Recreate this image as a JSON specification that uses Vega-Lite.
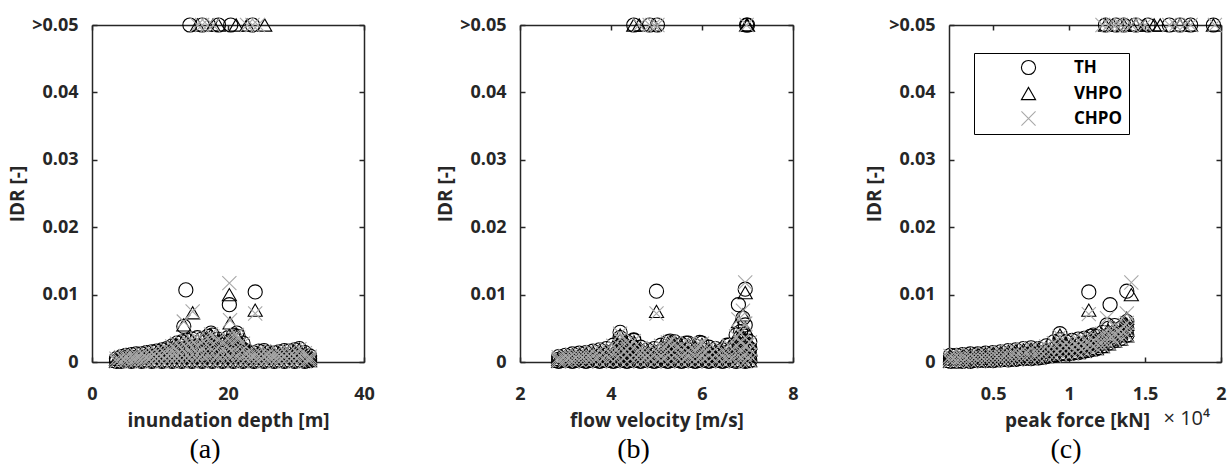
{
  "$schema": "https://vega.github.io/schema/vega-lite/v6.json",
  "padding": {"left": 8, "top": 15, "right": 0, "bottom": 0},
  "background": "white",
  "bounds": "flush",
  "spacing": 156,
  "config": {
    "view": {"stroke": null},
    "point": {"filled": false, "size": 200, "strokeWidth": 1.1, "opacity": 1},
    "axis": {"grid": false, "domainColor": "#262626", "domainWidth": 1.5, "tickColor": "#262626", "tickWidth": 1.5, "tickSize": -5, "labelFont": "Open Sans", "labelFontSize": 18, "labelFontWeight": "bold", "labelColor": "#262626", "labelFlush": false, "labelOverlap": false, "titleFont": "Open Sans", "titleFontSize": 19, "titleFontWeight": "bold", "titleColor": "#262626"},
    "axisX": {"labelPadding": 28, "titlePadding": 8},
    "axisY": {"labelPadding": 19, "titlePadding": 4},
    "legend": {"labelFont": "Open Sans", "labelFontSize": 17, "labelFontWeight": "bold", "labelColor": "black", "symbolSize": 200, "symbolStrokeWidth": 1.1, "strokeColor": "black", "fillColor": "white", "padding": 6, "rowPadding": 7, "symbolOffset": 40, "labelOffset": 37},
    "title": {"orient": "bottom", "font": "Liberation Serif", "fontSize": 28, "fontWeight": "normal", "color": "black", "anchor": "middle", "frame": "group", "offset": 6}
  },
  "resolve": {"scale": {"shape": "independent", "stroke": "independent", "strokeWidth": "independent"}, "legend": {"shape": "independent", "stroke": "independent"}},
  "datasets": {
    "a": [
      {"x":3.6,"TH":0.0001,"VHPO":0.0001,"CHPO":0.0001},{"x":3.6,"TH":0.0005,"VHPO":0.0004,"CHPO":0.0005},
      {"x":4.3,"TH":0.0001,"VHPO":0.0001,"CHPO":0.0001},{"x":4.3,"TH":0.0008,"VHPO":0.0007,"CHPO":0.0007},
      {"x":5.0,"TH":0.0002,"VHPO":0.0001,"CHPO":0.0002},{"x":5.0,"TH":0.0006,"VHPO":0.0005,"CHPO":0.0006},{"x":5.0,"TH":0.0010,"VHPO":0.0009,"CHPO":0.0009},
      {"x":5.8,"TH":0.0001,"VHPO":0.0001,"CHPO":0.0001},{"x":5.8,"TH":0.0006,"VHPO":0.0005,"CHPO":0.0006},{"x":5.8,"TH":0.0011,"VHPO":0.0010,"CHPO":0.0010},
      {"x":6.5,"TH":0.0002,"VHPO":0.0002,"CHPO":0.0002},{"x":6.5,"TH":0.0007,"VHPO":0.0006,"CHPO":0.0006},{"x":6.5,"TH":0.0012,"VHPO":0.0011,"CHPO":0.0011},
      {"x":7.3,"TH":0.0001,"VHPO":0.0001,"CHPO":0.0001},{"x":7.3,"TH":0.0006,"VHPO":0.0006,"CHPO":0.0006},{"x":7.3,"TH":0.0012,"VHPO":0.0011,"CHPO":0.0012},
      {"x":8.0,"TH":0.0002,"VHPO":0.0002,"CHPO":0.0002},{"x":8.0,"TH":0.0008,"VHPO":0.0007,"CHPO":0.0007},{"x":8.0,"TH":0.0014,"VHPO":0.0013,"CHPO":0.0013},
      {"x":8.8,"TH":0.0001,"VHPO":0.0001,"CHPO":0.0001},{"x":8.8,"TH":0.0008,"VHPO":0.0007,"CHPO":0.0008},{"x":8.8,"TH":0.0015,"VHPO":0.0014,"CHPO":0.0014},
      {"x":9.5,"TH":0.0002,"VHPO":0.0002,"CHPO":0.0002},{"x":9.5,"TH":0.0009,"VHPO":0.0008,"CHPO":0.0008},{"x":9.5,"TH":0.0016,"VHPO":0.0015,"CHPO":0.0015},
      {"x":10.3,"TH":0.0001,"VHPO":0.0001,"CHPO":0.0001},{"x":10.3,"TH":0.0009,"VHPO":0.0008,"CHPO":0.0009},{"x":10.3,"TH":0.0018,"VHPO":0.0017,"CHPO":0.0017},
      {"x":11.0,"TH":0.0002,"VHPO":0.0002,"CHPO":0.0002},{"x":11.0,"TH":0.0010,"VHPO":0.0009,"CHPO":0.0010},{"x":11.0,"TH":0.0020,"VHPO":0.0018,"CHPO":0.0019},
      {"x":11.8,"TH":0.0001,"VHPO":0.0001,"CHPO":0.0001},{"x":11.8,"TH":0.0008,"VHPO":0.0007,"CHPO":0.0008},{"x":11.8,"TH":0.0016,"VHPO":0.0015,"CHPO":0.0015},{"x":11.8,"TH":0.0024,"VHPO":0.0022,"CHPO":0.0023},
      {"x":12.5,"TH":0.0002,"VHPO":0.0002,"CHPO":0.0002},{"x":12.5,"TH":0.0010,"VHPO":0.0009,"CHPO":0.0010},{"x":12.5,"TH":0.0019,"VHPO":0.0017,"CHPO":0.0018},{"x":12.5,"TH":0.0028,"VHPO":0.0026,"CHPO":0.0027},
      {"x":13.2,"TH":0.0001,"VHPO":0.0001,"CHPO":0.0001},{"x":13.2,"TH":0.0010,"VHPO":0.0009,"CHPO":0.0010},{"x":13.2,"TH":0.0020,"VHPO":0.0018,"CHPO":0.0019},{"x":13.2,"TH":0.0030,"VHPO":0.0028,"CHPO":0.0029},
      {"x":14.0,"TH":0.0002,"VHPO":0.0002,"CHPO":0.0002},{"x":14.0,"TH":0.0011,"VHPO":0.0010,"CHPO":0.0011},{"x":14.0,"TH":0.0022,"VHPO":0.0020,"CHPO":0.0021},{"x":14.0,"TH":0.0032,"VHPO":0.0030,"CHPO":0.0031},
      {"x":14.7,"TH":0.0001,"VHPO":0.0001,"CHPO":0.0001},{"x":14.7,"TH":0.0012,"VHPO":0.0011,"CHPO":0.0011},{"x":14.7,"TH":0.0023,"VHPO":0.0021,"CHPO":0.0022},{"x":14.7,"TH":0.0034,"VHPO":0.0031,"CHPO":0.0032},
      {"x":15.5,"TH":0.0002,"VHPO":0.0002,"CHPO":0.0002},{"x":15.5,"TH":0.0012,"VHPO":0.0011,"CHPO":0.0012},{"x":15.5,"TH":0.0024,"VHPO":0.0022,"CHPO":0.0023},{"x":15.5,"TH":0.0036,"VHPO":0.0033,"CHPO":0.0034},
      {"x":16.2,"TH":0.0001,"VHPO":0.0001,"CHPO":0.0001},{"x":16.2,"TH":0.0011,"VHPO":0.0010,"CHPO":0.0011},{"x":16.2,"TH":0.0022,"VHPO":0.0020,"CHPO":0.0021},{"x":16.2,"TH":0.0034,"VHPO":0.0032,"CHPO":0.0033},
      {"x":17.0,"TH":0.0002,"VHPO":0.0002,"CHPO":0.0002},{"x":17.0,"TH":0.0013,"VHPO":0.0012,"CHPO":0.0012},{"x":17.0,"TH":0.0026,"VHPO":0.0024,"CHPO":0.0025},{"x":17.0,"TH":0.0038,"VHPO":0.0035,"CHPO":0.0036},
      {"x":17.7,"TH":0.0001,"VHPO":0.0001,"CHPO":0.0001},{"x":17.7,"TH":0.0013,"VHPO":0.0012,"CHPO":0.0013},{"x":17.7,"TH":0.0027,"VHPO":0.0025,"CHPO":0.0026},{"x":17.7,"TH":0.0040,"VHPO":0.0037,"CHPO":0.0038},
      {"x":18.5,"TH":0.0002,"VHPO":0.0002,"CHPO":0.0002},{"x":18.5,"TH":0.0011,"VHPO":0.0010,"CHPO":0.0011},{"x":18.5,"TH":0.0023,"VHPO":0.0021,"CHPO":0.0022},{"x":18.5,"TH":0.0034,"VHPO":0.0032,"CHPO":0.0033},
      {"x":19.2,"TH":0.0001,"VHPO":0.0001,"CHPO":0.0001},{"x":19.2,"TH":0.0010,"VHPO":0.0009,"CHPO":0.0010},{"x":19.2,"TH":0.0020,"VHPO":0.0018,"CHPO":0.0019},{"x":19.2,"TH":0.0030,"VHPO":0.0028,"CHPO":0.0029},
      {"x":20.0,"TH":0.0002,"VHPO":0.0002,"CHPO":0.0002},{"x":20.0,"TH":0.0012,"VHPO":0.0011,"CHPO":0.0012},{"x":20.0,"TH":0.0024,"VHPO":0.0022,"CHPO":0.0023},{"x":20.0,"TH":0.0036,"VHPO":0.0033,"CHPO":0.0034},
      {"x":20.8,"TH":0.0001,"VHPO":0.0001,"CHPO":0.0001},{"x":20.8,"TH":0.0013,"VHPO":0.0012,"CHPO":0.0013},{"x":20.8,"TH":0.0027,"VHPO":0.0025,"CHPO":0.0026},{"x":20.8,"TH":0.0040,"VHPO":0.0037,"CHPO":0.0038},
      {"x":21.5,"TH":0.0002,"VHPO":0.0002,"CHPO":0.0002},{"x":21.5,"TH":0.0013,"VHPO":0.0012,"CHPO":0.0012},{"x":21.5,"TH":0.0026,"VHPO":0.0024,"CHPO":0.0025},{"x":21.5,"TH":0.0038,"VHPO":0.0035,"CHPO":0.0036},
      {"x":22.2,"TH":0.0001,"VHPO":0.0001,"CHPO":0.0001},{"x":22.2,"TH":0.0010,"VHPO":0.0009,"CHPO":0.0009},{"x":22.2,"TH":0.0019,"VHPO":0.0017,"CHPO":0.0018},{"x":22.2,"TH":0.0028,"VHPO":0.0026,"CHPO":0.0027},
      {"x":23.0,"TH":0.0002,"VHPO":0.0002,"CHPO":0.0002},{"x":23.0,"TH":0.0008,"VHPO":0.0007,"CHPO":0.0008},{"x":23.0,"TH":0.0015,"VHPO":0.0014,"CHPO":0.0014},
      {"x":23.8,"TH":0.0001,"VHPO":0.0001,"CHPO":0.0001},{"x":23.8,"TH":0.0007,"VHPO":0.0006,"CHPO":0.0007},{"x":23.8,"TH":0.0013,"VHPO":0.0012,"CHPO":0.0012},
      {"x":24.5,"TH":0.0002,"VHPO":0.0002,"CHPO":0.0002},{"x":24.5,"TH":0.0008,"VHPO":0.0007,"CHPO":0.0008},{"x":24.5,"TH":0.0016,"VHPO":0.0015,"CHPO":0.0015},
      {"x":25.3,"TH":0.0001,"VHPO":0.0001,"CHPO":0.0001},{"x":25.3,"TH":0.0009,"VHPO":0.0008,"CHPO":0.0008},{"x":25.3,"TH":0.0017,"VHPO":0.0016,"CHPO":0.0016},
      {"x":26.0,"TH":0.0002,"VHPO":0.0002,"CHPO":0.0002},{"x":26.0,"TH":0.0008,"VHPO":0.0007,"CHPO":0.0007},{"x":26.0,"TH":0.0014,"VHPO":0.0013,"CHPO":0.0013},
      {"x":26.8,"TH":0.0001,"VHPO":0.0001,"CHPO":0.0001},{"x":26.8,"TH":0.0007,"VHPO":0.0006,"CHPO":0.0007},{"x":26.8,"TH":0.0013,"VHPO":0.0012,"CHPO":0.0012},
      {"x":27.5,"TH":0.0002,"VHPO":0.0002,"CHPO":0.0002},{"x":27.5,"TH":0.0008,"VHPO":0.0007,"CHPO":0.0008},{"x":27.5,"TH":0.0015,"VHPO":0.0014,"CHPO":0.0014},
      {"x":28.3,"TH":0.0001,"VHPO":0.0001,"CHPO":0.0001},{"x":28.3,"TH":0.0009,"VHPO":0.0008,"CHPO":0.0008},{"x":28.3,"TH":0.0017,"VHPO":0.0016,"CHPO":0.0016},
      {"x":29.0,"TH":0.0002,"VHPO":0.0002,"CHPO":0.0002},{"x":29.0,"TH":0.0008,"VHPO":0.0007,"CHPO":0.0008},{"x":29.0,"TH":0.0016,"VHPO":0.0015,"CHPO":0.0015},
      {"x":29.8,"TH":0.0001,"VHPO":0.0001,"CHPO":0.0001},{"x":29.8,"TH":0.0009,"VHPO":0.0008,"CHPO":0.0009},{"x":29.8,"TH":0.0018,"VHPO":0.0017,"CHPO":0.0017},
      {"x":30.5,"TH":0.0002,"VHPO":0.0002,"CHPO":0.0002},{"x":30.5,"TH":0.0010,"VHPO":0.0009,"CHPO":0.0010},{"x":30.5,"TH":0.0020,"VHPO":0.0019,"CHPO":0.0019},
      {"x":31.3,"TH":0.0001,"VHPO":0.0001,"CHPO":0.0001},{"x":31.3,"TH":0.0007,"VHPO":0.0006,"CHPO":0.0007},{"x":31.3,"TH":0.0014,"VHPO":0.0013,"CHPO":0.0013},
      {"x":32.0,"TH":0.0002,"VHPO":0.0002,"CHPO":0.0002},{"x":32.0,"TH":0.0005,"VHPO":0.0005,"CHPO":0.0005},{"x":32.0,"TH":0.0009,"VHPO":0.0008,"CHPO":0.0008},
      {"x":13.8,"TH":0.0107},
      {"x":13.5,"TH":0.0053,"VHPO":0.0055,"CHPO":0.0060},
      {"x":14.8,"VHPO":0.0073,"CHPO":0.0075},
      {"x":17.5,"TH":0.0043,"VHPO":0.0040,"CHPO":0.0041},
      {"x":20.2,"TH":0.0085,"VHPO":0.0100,"CHPO":0.0117},
      {"x":20.3,"VHPO":0.0058,"CHPO":0.0062},
      {"x":21.3,"TH":0.0043,"VHPO":0.0038,"CHPO":0.0040},
      {"x":24.0,"TH":0.0104,"VHPO":0.0077,"CHPO":0.0072},
      {"x":14.4,"TH":0.05},
      {"x":15.5,"VHPO":0.05,"CHPO":0.05},
      {"x":16.2,"TH":0.05,"CHPO":0.05},
      {"x":17.0,"CHPO":0.05},
      {"x":17.8,"VHPO":0.05,"CHPO":0.05},
      {"x":18.6,"TH":0.05,"VHPO":0.05},
      {"x":20.4,"TH":0.05},
      {"x":21.2,"VHPO":0.05},
      {"x":22.8,"VHPO":0.05,"CHPO":0.05},
      {"x":23.6,"TH":0.05,"CHPO":0.05},
      {"x":24.4,"CHPO":0.05},
      {"x":25.4,"VHPO":0.05}
    ],
    "b": [
      {"x":2.85,"TH":0.0001,"VHPO":0.0001,"CHPO":0.0001},{"x":2.85,"TH":0.0004,"VHPO":0.0004,"CHPO":0.0004},{"x":2.85,"TH":0.0008,"VHPO":0.0007,"CHPO":0.0007},
      {"x":3.0,"TH":0.0002,"VHPO":0.0002,"CHPO":0.0002},{"x":3.0,"TH":0.0005,"VHPO":0.0005,"CHPO":0.0005},{"x":3.0,"TH":0.0010,"VHPO":0.0009,"CHPO":0.0009},
      {"x":3.15,"TH":0.0001,"VHPO":0.0001,"CHPO":0.0001},{"x":3.15,"TH":0.0006,"VHPO":0.0005,"CHPO":0.0006},{"x":3.15,"TH":0.0012,"VHPO":0.0011,"CHPO":0.0011},
      {"x":3.3,"TH":0.0002,"VHPO":0.0002,"CHPO":0.0002},{"x":3.3,"TH":0.0007,"VHPO":0.0006,"CHPO":0.0007},{"x":3.3,"TH":0.0013,"VHPO":0.0012,"CHPO":0.0012},
      {"x":3.45,"TH":0.0001,"VHPO":0.0001,"CHPO":0.0001},{"x":3.45,"TH":0.0007,"VHPO":0.0006,"CHPO":0.0007},{"x":3.45,"TH":0.0014,"VHPO":0.0013,"CHPO":0.0013},
      {"x":3.6,"TH":0.0002,"VHPO":0.0002,"CHPO":0.0002},{"x":3.6,"TH":0.0008,"VHPO":0.0007,"CHPO":0.0008},{"x":3.6,"TH":0.0016,"VHPO":0.0015,"CHPO":0.0015},
      {"x":3.75,"TH":0.0001,"VHPO":0.0001,"CHPO":0.0001},{"x":3.75,"TH":0.0009,"VHPO":0.0008,"CHPO":0.0009},{"x":3.75,"TH":0.0018,"VHPO":0.0017,"CHPO":0.0017},
      {"x":3.9,"TH":0.0002,"VHPO":0.0002,"CHPO":0.0002},{"x":3.9,"TH":0.0010,"VHPO":0.0009,"CHPO":0.0010},{"x":3.9,"TH":0.0020,"VHPO":0.0018,"CHPO":0.0019},
      {"x":4.05,"TH":0.0001,"VHPO":0.0001,"CHPO":0.0001},{"x":4.05,"TH":0.0008,"VHPO":0.0007,"CHPO":0.0008},{"x":4.05,"TH":0.0016,"VHPO":0.0015,"CHPO":0.0015},{"x":4.05,"TH":0.0025,"VHPO":0.0023,"CHPO":0.0024},
      {"x":4.2,"TH":0.0002,"VHPO":0.0002,"CHPO":0.0002},{"x":4.2,"TH":0.0012,"VHPO":0.0011,"CHPO":0.0011},{"x":4.2,"TH":0.0024,"VHPO":0.0022,"CHPO":0.0023},{"x":4.2,"TH":0.0036,"VHPO":0.0033,"CHPO":0.0034},
      {"x":4.35,"TH":0.0001,"VHPO":0.0001,"CHPO":0.0001},{"x":4.35,"TH":0.0010,"VHPO":0.0009,"CHPO":0.0010},{"x":4.35,"TH":0.0020,"VHPO":0.0018,"CHPO":0.0019},{"x":4.35,"TH":0.0030,"VHPO":0.0028,"CHPO":0.0029},
      {"x":4.5,"TH":0.0002,"VHPO":0.0002,"CHPO":0.0002},{"x":4.5,"TH":0.0011,"VHPO":0.0010,"CHPO":0.0010},{"x":4.5,"TH":0.0022,"VHPO":0.0020,"CHPO":0.0021},{"x":4.5,"TH":0.0032,"VHPO":0.0030,"CHPO":0.0031},
      {"x":4.65,"TH":0.0001,"VHPO":0.0001,"CHPO":0.0001},{"x":4.65,"TH":0.0008,"VHPO":0.0007,"CHPO":0.0007},{"x":4.65,"TH":0.0015,"VHPO":0.0014,"CHPO":0.0014},{"x":4.65,"TH":0.0022,"VHPO":0.0020,"CHPO":0.0021},
      {"x":4.8,"TH":0.0002,"VHPO":0.0002,"CHPO":0.0002},{"x":4.8,"TH":0.0009,"VHPO":0.0008,"CHPO":0.0009},{"x":4.8,"TH":0.0018,"VHPO":0.0017,"CHPO":0.0017},
      {"x":4.95,"TH":0.0001,"VHPO":0.0001,"CHPO":0.0001},{"x":4.95,"TH":0.0010,"VHPO":0.0009,"CHPO":0.0010},{"x":4.95,"TH":0.0020,"VHPO":0.0018,"CHPO":0.0019},
      {"x":5.1,"TH":0.0002,"VHPO":0.0002,"CHPO":0.0002},{"x":5.1,"TH":0.0008,"VHPO":0.0007,"CHPO":0.0008},{"x":5.1,"TH":0.0016,"VHPO":0.0015,"CHPO":0.0015},{"x":5.1,"TH":0.0025,"VHPO":0.0023,"CHPO":0.0024},
      {"x":5.25,"TH":0.0001,"VHPO":0.0001,"CHPO":0.0001},{"x":5.25,"TH":0.0010,"VHPO":0.0009,"CHPO":0.0010},{"x":5.25,"TH":0.0020,"VHPO":0.0018,"CHPO":0.0019},{"x":5.25,"TH":0.0030,"VHPO":0.0028,"CHPO":0.0029},
      {"x":5.4,"TH":0.0002,"VHPO":0.0002,"CHPO":0.0002},{"x":5.4,"TH":0.0010,"VHPO":0.0009,"CHPO":0.0010},{"x":5.4,"TH":0.0020,"VHPO":0.0019,"CHPO":0.0019},{"x":5.4,"TH":0.0030,"VHPO":0.0027,"CHPO":0.0028},
      {"x":5.55,"TH":0.0001,"VHPO":0.0001,"CHPO":0.0001},{"x":5.55,"TH":0.0009,"VHPO":0.0008,"CHPO":0.0008},{"x":5.55,"TH":0.0017,"VHPO":0.0016,"CHPO":0.0016},{"x":5.55,"TH":0.0026,"VHPO":0.0024,"CHPO":0.0025},
      {"x":5.7,"TH":0.0002,"VHPO":0.0002,"CHPO":0.0002},{"x":5.7,"TH":0.0009,"VHPO":0.0008,"CHPO":0.0009},{"x":5.7,"TH":0.0018,"VHPO":0.0017,"CHPO":0.0017},{"x":5.7,"TH":0.0028,"VHPO":0.0026,"CHPO":0.0027},
      {"x":5.85,"TH":0.0001,"VHPO":0.0001,"CHPO":0.0001},{"x":5.85,"TH":0.0008,"VHPO":0.0007,"CHPO":0.0008},{"x":5.85,"TH":0.0016,"VHPO":0.0015,"CHPO":0.0015},{"x":5.85,"TH":0.0024,"VHPO":0.0022,"CHPO":0.0023},
      {"x":6.0,"TH":0.0002,"VHPO":0.0002,"CHPO":0.0002},{"x":6.0,"TH":0.0009,"VHPO":0.0008,"CHPO":0.0009},{"x":6.0,"TH":0.0018,"VHPO":0.0017,"CHPO":0.0017},{"x":6.0,"TH":0.0028,"VHPO":0.0026,"CHPO":0.0027},
      {"x":6.15,"TH":0.0001,"VHPO":0.0001,"CHPO":0.0001},{"x":6.15,"TH":0.0011,"VHPO":0.0010,"CHPO":0.0010},{"x":6.15,"TH":0.0022,"VHPO":0.0020,"CHPO":0.0021},
      {"x":6.3,"TH":0.0002,"VHPO":0.0002,"CHPO":0.0002},{"x":6.3,"TH":0.0010,"VHPO":0.0009,"CHPO":0.0010},{"x":6.3,"TH":0.0020,"VHPO":0.0018,"CHPO":0.0019},
      {"x":6.45,"TH":0.0001,"VHPO":0.0001,"CHPO":0.0001},{"x":6.45,"TH":0.0009,"VHPO":0.0008,"CHPO":0.0009},{"x":6.45,"TH":0.0018,"VHPO":0.0017,"CHPO":0.0017},
      {"x":6.6,"TH":0.0002,"VHPO":0.0002,"CHPO":0.0002},{"x":6.6,"TH":0.0008,"VHPO":0.0007,"CHPO":0.0008},{"x":6.6,"TH":0.0016,"VHPO":0.0015,"CHPO":0.0015},{"x":6.6,"TH":0.0025,"VHPO":0.0023,"CHPO":0.0024},
      {"x":6.75,"TH":0.0001,"VHPO":0.0001,"CHPO":0.0001},{"x":6.75,"TH":0.0013,"VHPO":0.0012,"CHPO":0.0013},{"x":6.75,"TH":0.0026,"VHPO":0.0024,"CHPO":0.0025},{"x":6.75,"TH":0.0040,"VHPO":0.0037,"CHPO":0.0038},
      {"x":6.85,"TH":0.0002,"VHPO":0.0002,"CHPO":0.0002},{"x":6.85,"TH":0.0015,"VHPO":0.0014,"CHPO":0.0014},{"x":6.85,"TH":0.0030,"VHPO":0.0028,"CHPO":0.0029},{"x":6.85,"TH":0.0045,"VHPO":0.0042,"CHPO":0.0043},
      {"x":6.95,"TH":0.0001,"VHPO":0.0001,"CHPO":0.0001},{"x":6.95,"TH":0.0012,"VHPO":0.0011,"CHPO":0.0012},{"x":6.95,"TH":0.0025,"VHPO":0.0023,"CHPO":0.0024},{"x":6.95,"TH":0.0038,"VHPO":0.0035,"CHPO":0.0036},
      {"x":7.05,"TH":0.0002,"VHPO":0.0002,"CHPO":0.0002},{"x":7.05,"TH":0.0010,"VHPO":0.0009,"CHPO":0.0010},{"x":7.05,"TH":0.0020,"VHPO":0.0018,"CHPO":0.0019},{"x":7.05,"TH":0.0030,"VHPO":0.0028,"CHPO":0.0029},
      {"x":4.2,"TH":0.0044,"VHPO":0.0040,"CHPO":0.0042},
      {"x":4.5,"TH":0.0033,"VHPO":0.0030,"CHPO":0.0031},
      {"x":5.3,"TH":0.0031,"VHPO":0.0029,"CHPO":0.0030},
      {"x":5.65,"TH":0.0028},
      {"x":5.95,"TH":0.0029,"CHPO":0.0026},
      {"x":6.55,"TH":0.0025},
      {"x":5.0,"TH":0.0105,"VHPO":0.0075,"CHPO":0.0072},
      {"x":6.8,"TH":0.0085,"VHPO":0.0060,"CHPO":0.0063},
      {"x":6.95,"TH":0.0108,"VHPO":0.0103,"CHPO":0.0118},
      {"x":6.9,"TH":0.0065,"VHPO":0.0070,"CHPO":0.0076},
      {"x":6.95,"TH":0.0055,"VHPO":0.0050,"CHPO":0.0057},
      {"x":4.5,"TH":0.05,"VHPO":0.05},
      {"x":4.62,"VHPO":0.05,"CHPO":0.05},
      {"x":4.85,"TH":0.05,"CHPO":0.05},
      {"x":4.95,"VHPO":0.05,"CHPO":0.05},
      {"x":5.02,"TH":0.05,"CHPO":0.05},
      {"x":6.98,"TH":0.05,"VHPO":0.05,"CHPO":0.05},
      {"x":7.0,"TH":0.05,"VHPO":0.05}
    ],
    "c": [
      {"x":2200,"TH":0.0001,"VHPO":0.0001,"CHPO":0.0001},{"x":2200,"TH":0.0005,"VHPO":0.0005,"CHPO":0.0005},{"x":2200,"TH":0.0010,"VHPO":0.0009,"CHPO":0.0009},
      {"x":2600,"TH":0.0001,"VHPO":0.0001,"CHPO":0.0001},{"x":2600,"TH":0.0005,"VHPO":0.0005,"CHPO":0.0005},{"x":2600,"TH":0.0010,"VHPO":0.0009,"CHPO":0.0010},
      {"x":3000,"TH":0.0001,"VHPO":0.0001,"CHPO":0.0001},{"x":3000,"TH":0.0006,"VHPO":0.0005,"CHPO":0.0006},{"x":3000,"TH":0.0011,"VHPO":0.0010,"CHPO":0.0010},
      {"x":3500,"TH":0.0001,"VHPO":0.0001,"CHPO":0.0001},{"x":3500,"TH":0.0006,"VHPO":0.0006,"CHPO":0.0006},{"x":3500,"TH":0.0012,"VHPO":0.0011,"CHPO":0.0011},
      {"x":4000,"TH":0.0002,"VHPO":0.0002,"CHPO":0.0002},{"x":4000,"TH":0.0007,"VHPO":0.0006,"CHPO":0.0007},{"x":4000,"TH":0.0012,"VHPO":0.0011,"CHPO":0.0012},
      {"x":4500,"TH":0.0002,"VHPO":0.0002,"CHPO":0.0002},{"x":4500,"TH":0.0007,"VHPO":0.0007,"CHPO":0.0007},{"x":4500,"TH":0.0013,"VHPO":0.0012,"CHPO":0.0012},
      {"x":5000,"TH":0.0002,"VHPO":0.0002,"CHPO":0.0002},{"x":5000,"TH":0.0008,"VHPO":0.0007,"CHPO":0.0008},{"x":5000,"TH":0.0014,"VHPO":0.0013,"CHPO":0.0013},
      {"x":5500,"TH":0.0003,"VHPO":0.0003,"CHPO":0.0003},{"x":5500,"TH":0.0009,"VHPO":0.0008,"CHPO":0.0008},{"x":5500,"TH":0.0015,"VHPO":0.0014,"CHPO":0.0014},
      {"x":6000,"TH":0.0003,"VHPO":0.0003,"CHPO":0.0003},{"x":6000,"TH":0.0010,"VHPO":0.0009,"CHPO":0.0009},{"x":6000,"TH":0.0017,"VHPO":0.0016,"CHPO":0.0016},
      {"x":6500,"TH":0.0004,"VHPO":0.0004,"CHPO":0.0004},{"x":6500,"TH":0.0011,"VHPO":0.0010,"CHPO":0.0010},{"x":6500,"TH":0.0018,"VHPO":0.0017,"CHPO":0.0017},
      {"x":7000,"TH":0.0005,"VHPO":0.0005,"CHPO":0.0005},{"x":7000,"TH":0.0012,"VHPO":0.0011,"CHPO":0.0011},{"x":7000,"TH":0.0020,"VHPO":0.0018,"CHPO":0.0019},
      {"x":7500,"TH":0.0005,"VHPO":0.0005,"CHPO":0.0005},{"x":7500,"TH":0.0013,"VHPO":0.0012,"CHPO":0.0012},{"x":7500,"TH":0.0021,"VHPO":0.0019,"CHPO":0.0020},
      {"x":8000,"TH":0.0006,"VHPO":0.0006,"CHPO":0.0006},{"x":8000,"TH":0.0013,"VHPO":0.0012,"CHPO":0.0013},{"x":8000,"TH":0.0020,"VHPO":0.0019,"CHPO":0.0019},
      {"x":8500,"TH":0.0008,"VHPO":0.0008,"CHPO":0.0008},{"x":8500,"TH":0.0016,"VHPO":0.0015,"CHPO":0.0015},{"x":8500,"TH":0.0024,"VHPO":0.0022,"CHPO":0.0023},
      {"x":9000,"TH":0.0010,"VHPO":0.0010,"CHPO":0.0010},{"x":9000,"TH":0.0020,"VHPO":0.0018,"CHPO":0.0019},{"x":9000,"TH":0.0030,"VHPO":0.0027,"CHPO":0.0028},
      {"x":9400,"TH":0.0012,"VHPO":0.0012,"CHPO":0.0012},{"x":9400,"TH":0.0022,"VHPO":0.0020,"CHPO":0.0021},{"x":9400,"TH":0.0033,"VHPO":0.0030,"CHPO":0.0031},
      {"x":9800,"TH":0.0012,"VHPO":0.0012,"CHPO":0.0012},{"x":9800,"TH":0.0021,"VHPO":0.0019,"CHPO":0.0020},{"x":9800,"TH":0.0030,"VHPO":0.0027,"CHPO":0.0028},
      {"x":10200,"TH":0.0013,"VHPO":0.0013,"CHPO":0.0013},{"x":10200,"TH":0.0022,"VHPO":0.0020,"CHPO":0.0021},{"x":10200,"TH":0.0032,"VHPO":0.0029,"CHPO":0.0030},
      {"x":10600,"TH":0.0014,"VHPO":0.0014,"CHPO":0.0014},{"x":10600,"TH":0.0024,"VHPO":0.0022,"CHPO":0.0023},{"x":10600,"TH":0.0034,"VHPO":0.0031,"CHPO":0.0032},
      {"x":11000,"TH":0.0016,"VHPO":0.0016,"CHPO":0.0016},{"x":11000,"TH":0.0025,"VHPO":0.0023,"CHPO":0.0024},{"x":11000,"TH":0.0035,"VHPO":0.0032,"CHPO":0.0033},
      {"x":11400,"TH":0.0018,"VHPO":0.0018,"CHPO":0.0018},{"x":11400,"TH":0.0028,"VHPO":0.0026,"CHPO":0.0027},{"x":11400,"TH":0.0038,"VHPO":0.0035,"CHPO":0.0036},
      {"x":11800,"TH":0.0020,"VHPO":0.0020,"CHPO":0.0020},{"x":11800,"TH":0.0029,"VHPO":0.0027,"CHPO":0.0028},{"x":11800,"TH":0.0038,"VHPO":0.0035,"CHPO":0.0036},
      {"x":12200,"TH":0.0024,"VHPO":0.0023,"CHPO":0.0024},{"x":12200,"TH":0.0034,"VHPO":0.0031,"CHPO":0.0032},{"x":12200,"TH":0.0044,"VHPO":0.0040,"CHPO":0.0042},
      {"x":12600,"TH":0.0028,"VHPO":0.0027,"CHPO":0.0028},{"x":12600,"TH":0.0040,"VHPO":0.0037,"CHPO":0.0038},{"x":12600,"TH":0.0050,"VHPO":0.0046,"CHPO":0.0048},
      {"x":13000,"TH":0.0032,"VHPO":0.0031,"CHPO":0.0032},{"x":13000,"TH":0.0044,"VHPO":0.0040,"CHPO":0.0042},{"x":13000,"TH":0.0054,"VHPO":0.0050,"CHPO":0.0052},
      {"x":13400,"TH":0.0035,"VHPO":0.0034,"CHPO":0.0035},{"x":13400,"TH":0.0043,"VHPO":0.0040,"CHPO":0.0041},{"x":13400,"TH":0.0050,"VHPO":0.0047,"CHPO":0.0048},
      {"x":13800,"TH":0.0040,"VHPO":0.0039,"CHPO":0.0040},{"x":13800,"TH":0.0050,"VHPO":0.0047,"CHPO":0.0048},{"x":13800,"TH":0.0060,"VHPO":0.0056,"CHPO":0.0058},
      {"x":9400,"TH":0.0042,"VHPO":0.0040,"CHPO":0.0038},
      {"x":11300,"TH":0.0104,"VHPO":0.0077,"CHPO":0.0071},
      {"x":12700,"TH":0.0085},
      {"x":12500,"TH":0.0055,"VHPO":0.0045,"CHPO":0.0065},
      {"x":13800,"TH":0.0105,"VHPO":0.0065,"CHPO":0.0072},
      {"x":14100,"VHPO":0.0100,"CHPO":0.0118},
      {"x":13700,"VHPO":0.0057,"CHPO":0.0055},
      {"x":12800,"VHPO":0.0040,"CHPO":0.0038},
      {"x":11600,"TH":0.0040,"VHPO":0.0036},
      {"x":12200,"CHPO":0.05},
      {"x":12400,"TH":0.05,"VHPO":0.05},
      {"x":12600,"CHPO":0.05},
      {"x":12900,"VHPO":0.05,"CHPO":0.05},
      {"x":13100,"TH":0.05,"CHPO":0.05},
      {"x":13400,"CHPO":0.05},
      {"x":13600,"TH":0.05,"VHPO":0.05},
      {"x":13800,"CHPO":0.05},
      {"x":14100,"VHPO":0.05,"CHPO":0.05},
      {"x":14400,"TH":0.05,"VHPO":0.05},
      {"x":14700,"CHPO":0.05},
      {"x":15000,"VHPO":0.05,"CHPO":0.05},
      {"x":15200,"TH":0.05},
      {"x":15600,"VHPO":0.05},
      {"x":16000,"VHPO":0.05},
      {"x":16600,"TH":0.05,"CHPO":0.05},
      {"x":17000,"CHPO":0.05},
      {"x":17300,"TH":0.05,"VHPO":0.05},
      {"x":17600,"CHPO":0.05},
      {"x":18000,"TH":0.05,"VHPO":0.05,"CHPO":0.05},
      {"x":19500,"TH":0.05,"VHPO":0.05},
      {"x":19600,"CHPO":0.05}
    ]
  },
  "hconcat": [
    {
      "width": 272, "height": 337,
      "data": {"name": "a"},
      "transform": [{"fold": ["TH", "VHPO", "CHPO"], "as": ["series", "IDR"]}, {"filter": "datum.IDR != null"}],
      "title": {"text": "(a)", "dx": -23},
      "layer": [
        {
          "mark": {"type": "point"},
          "encoding": {
            "x": {"field": "x", "type": "quantitative", "scale": {"domain": [0, 40], "nice": false, "zero": false}, "axis": {"values": [0, 20, 40], "title": "inundation depth [m]"}},
            "y": {"field": "IDR", "type": "quantitative", "scale": {"domain": [0, 0.05], "nice": false}, "axis": {"values": [0, 0.01, 0.02, 0.03, 0.04, 0.05], "labelExpr": "datum.value > 0.0499 ? '>0.05' : datum.value == 0 ? '0' : format(datum.value, '.2f')", "title": "IDR [-]"}},
            "shape": {"field": "series", "type": "nominal", "scale": {"domain": ["TH", "VHPO", "CHPO"], "range": ["circle", "triangle-up", "M-1,-1L1,1M-1,1L1,-1"]}, "legend": null},
            "stroke": {"field": "series", "type": "nominal", "scale": {"domain": ["TH", "VHPO", "CHPO"], "range": ["black", "black", "#a8a8a8"]}, "legend": null},
            "strokeWidth": {"field": "series", "type": "nominal", "scale": {"domain": ["TH", "VHPO", "CHPO"], "range": [1.1, 1.1, 1.5]}, "legend": null},
            "order": {"field": "series", "sort": "descending"}
          }
        },
        {
          "mark": {"type": "point", "opacity": 0},
          "encoding": {
            "x": {"field": "x", "type": "quantitative", "scale": {"domain": [0, 40], "nice": false, "zero": false}, "axis": {"orient": "top", "values": [0, 20, 40], "labels": false, "title": null}},
            "y": {"field": "IDR", "type": "quantitative", "scale": {"domain": [0, 0.05], "nice": false}, "axis": {"orient": "right", "values": [0, 0.01, 0.02, 0.03, 0.04, 0.05], "labels": false, "title": null}}
          }
        }
      ],
      "resolve": {"axis": {"x": "independent", "y": "independent"}}
    },
    {
      "width": 273, "height": 337,
      "data": {"name": "b"},
      "transform": [{"fold": ["TH", "VHPO", "CHPO"], "as": ["series", "IDR"]}, {"filter": "datum.IDR != null"}],
      "title": {"text": "(b)", "dx": -23},
      "layer": [
        {
          "mark": {"type": "point"},
          "encoding": {
            "x": {"field": "x", "type": "quantitative", "scale": {"domain": [2, 8], "nice": false, "zero": false}, "axis": {"values": [2, 4, 6, 8], "title": "flow velocity [m/s]"}},
            "y": {"field": "IDR", "type": "quantitative", "scale": {"domain": [0, 0.05], "nice": false}, "axis": {"values": [0, 0.01, 0.02, 0.03, 0.04, 0.05], "labelExpr": "datum.value > 0.0499 ? '>0.05' : datum.value == 0 ? '0' : format(datum.value, '.2f')", "title": "IDR [-]"}},
            "shape": {"field": "series", "type": "nominal", "scale": {"domain": ["TH", "VHPO", "CHPO"], "range": ["circle", "triangle-up", "M-1,-1L1,1M-1,1L1,-1"]}, "legend": null},
            "stroke": {"field": "series", "type": "nominal", "scale": {"domain": ["TH", "VHPO", "CHPO"], "range": ["black", "black", "#a8a8a8"]}, "legend": null},
            "strokeWidth": {"field": "series", "type": "nominal", "scale": {"domain": ["TH", "VHPO", "CHPO"], "range": [1.1, 1.1, 1.5]}, "legend": null},
            "order": {"field": "series", "sort": "descending"}
          }
        },
        {
          "mark": {"type": "point", "opacity": 0},
          "encoding": {
            "x": {"field": "x", "type": "quantitative", "scale": {"domain": [2, 8], "nice": false, "zero": false}, "axis": {"orient": "top", "values": [2, 4, 6, 8], "labels": false, "title": null}},
            "y": {"field": "IDR", "type": "quantitative", "scale": {"domain": [0, 0.05], "nice": false}, "axis": {"orient": "right", "values": [0, 0.01, 0.02, 0.03, 0.04, 0.05], "labels": false, "title": null}}
          }
        }
      ],
      "resolve": {"axis": {"x": "independent", "y": "independent"}}
    },
    {
      "width": 272, "height": 337,
      "data": {"name": "c"},
      "transform": [{"fold": ["TH", "VHPO", "CHPO"], "as": ["series", "IDR"]}, {"filter": "datum.IDR != null"}],
      "title": {"text": "(c)", "dx": -19},
      "layer": [
        {
          "mark": {"type": "point"},
          "encoding": {
            "x": {"field": "x", "type": "quantitative", "scale": {"domain": [2100, 20000], "nice": false, "zero": false}, "axis": {"values": [5000, 10000, 15000, 20000], "labelExpr": "format(datum.value / 10000, '~g')", "title": "peak force [kN]", "titleX": 128}},
            "y": {"field": "IDR", "type": "quantitative", "scale": {"domain": [0, 0.05], "nice": false}, "axis": {"values": [0, 0.01, 0.02, 0.03, 0.04, 0.05], "labelExpr": "datum.value > 0.0499 ? '>0.05' : datum.value == 0 ? '0' : format(datum.value, '.2f')", "title": "IDR [-]"}},
            "shape": {"field": "series", "type": "nominal", "scale": {"domain": ["TH", "VHPO", "CHPO"], "range": ["circle", "triangle-up", "M-1,-1L1,1M-1,1L1,-1"]}, "legend": {"title": null, "orient": "none", "legendX": 25, "legendY": 28, "labelExpr": "datum.label + '  '"}},
            "stroke": {"field": "series", "type": "nominal", "scale": {"domain": ["TH", "VHPO", "CHPO"], "range": ["black", "black", "#a8a8a8"]}, "legend": {"title": null, "orient": "none", "legendX": 25, "legendY": 28, "labelExpr": "datum.label + '  '"}},
            "strokeWidth": {"field": "series", "type": "nominal", "scale": {"domain": ["TH", "VHPO", "CHPO"], "range": [1.1, 1.1, 1.5]}, "legend": null},
            "order": {"field": "series", "sort": "descending"}
          }
        },
        {
          "mark": {"type": "point", "opacity": 0},
          "encoding": {
            "x": {"field": "x", "type": "quantitative", "scale": {"domain": [2100, 20000], "nice": false, "zero": false}, "axis": {"orient": "top", "values": [5000, 10000, 15000, 20000], "labels": false, "title": "× 10⁴", "titleFontWeight": "normal", "titleFontSize": 20, "titleX": 214, "titleY": 399, "titleAlign": "left", "titleBaseline": "alphabetic", "titleAngle": 0}},
            "y": {"field": "IDR", "type": "quantitative", "scale": {"domain": [0, 0.05], "nice": false}, "axis": {"orient": "right", "values": [0, 0.01, 0.02, 0.03, 0.04, 0.05], "labels": false, "title": null}}
          }
        }
      ],
      "resolve": {"axis": {"x": "independent", "y": "independent"}}
    }
  ]
}
